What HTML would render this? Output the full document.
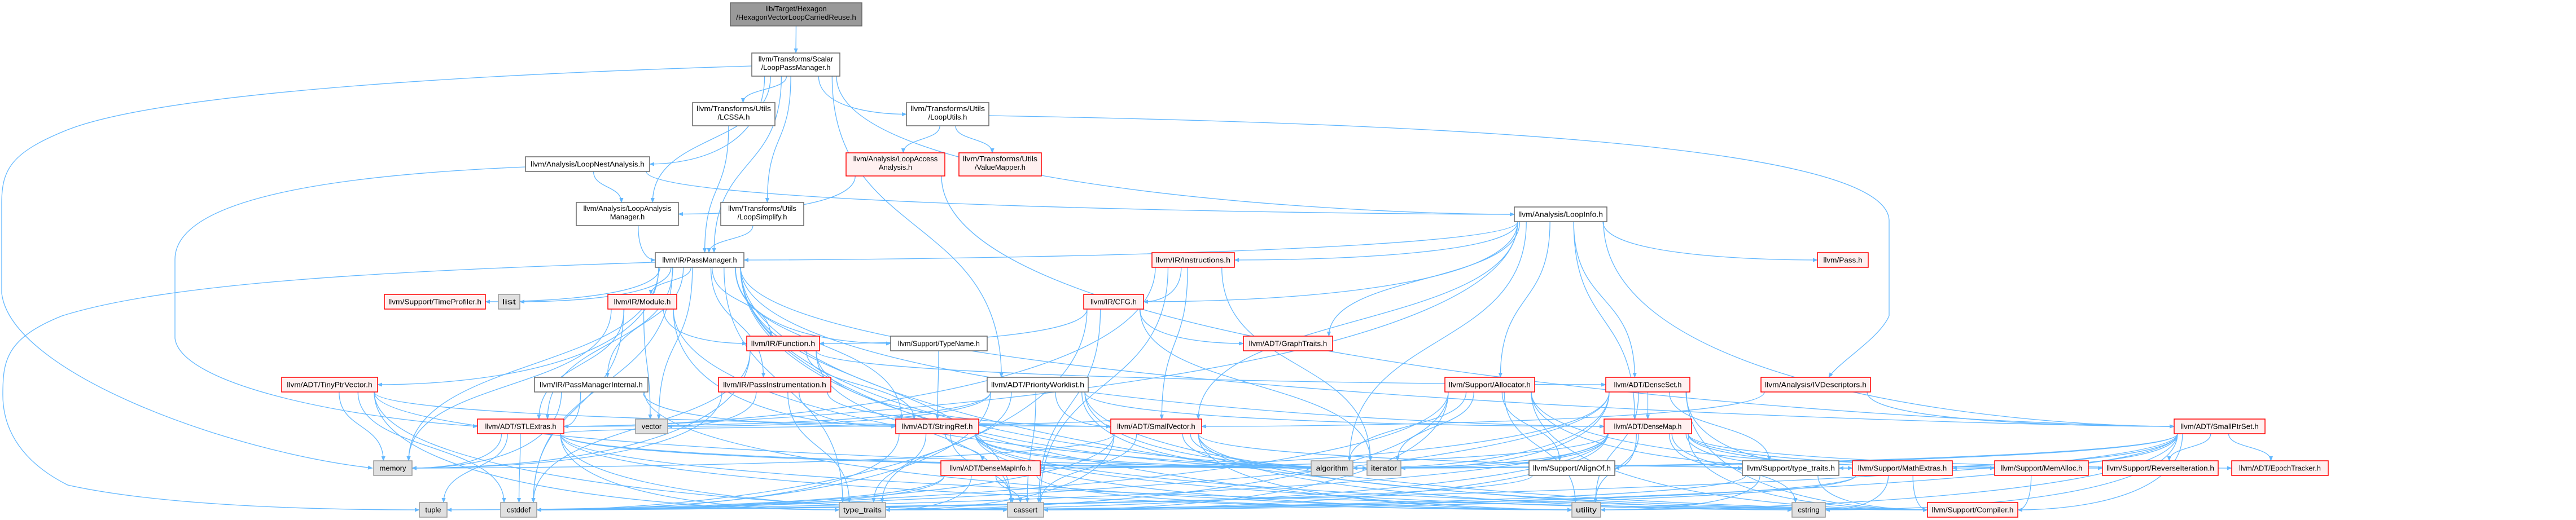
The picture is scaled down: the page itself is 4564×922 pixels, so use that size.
<!DOCTYPE html>
<html><head><meta charset="utf-8"><style>
html,body{margin:0;padding:0;background:#fff;}
svg{display:block;}
text{font-family:"Liberation Sans",sans-serif;font-size:13px;fill:#000;}
</style></head><body>
<svg id="g" width="4564" height="922" viewBox="0 0 4564 922" xmlns="http://www.w3.org/2000/svg">
<defs><marker id="ah" viewBox="0 0 10 10" refX="9" refY="5" markerWidth="9" markerHeight="9" markerUnits="userSpaceOnUse" orient="auto"><path d="M0,1 L10,5 L0,9 z" fill="#63b8ff"/></marker></defs>
<g id="edges"></g>
<g id="nodes"></g>
</svg>
<script>
// node ids, labels, boxes [x1,y1,x2,y2], kinds
const nodeIds = ["hex","lpm","lna","lcssa","lu","laa","vm","lam","ls","pm","instr","li","pass","ivd","tp","list","mod","tpv","pmi","stl","vec","mem","tuple","cstddef","cfg","fn","tn","gt","pi","pw","sr","sv","dmi","tt","cassert","alloc","dset","dmap","algo","iter","align","stt","math","util","cstring","comp","sps","memalloc","rev","epoch"];
const nodeLabels = [
["lib/Target/Hexagon","/HexagonVectorLoopCarriedReuse.h"],["llvm/Transforms/Scalar","/LoopPassManager.h"],["llvm/Analysis/LoopNestAnalysis.h"],
["llvm/Transforms/Utils","/LCSSA.h"],["llvm/Transforms/Utils","/LoopUtils.h"],["llvm/Analysis/LoopAccess","Analysis.h"],["llvm/Transforms/Utils","/ValueMapper.h"],
["llvm/Analysis/LoopAnalysis","Manager.h"],["llvm/Transforms/Utils","/LoopSimplify.h"],["llvm/IR/PassManager.h"],["llvm/IR/Instructions.h"],["llvm/Analysis/LoopInfo.h"],
["llvm/Pass.h"],["llvm/Analysis/IVDescriptors.h"],["llvm/Support/TimeProfiler.h"],["list"],["llvm/IR/Module.h"],["llvm/ADT/TinyPtrVector.h"],
["llvm/IR/PassManagerInternal.h"],["llvm/ADT/STLExtras.h"],["vector"],["memory"],["tuple"],["cstddef"],["llvm/IR/CFG.h"],["llvm/IR/Function.h"],
["llvm/Support/TypeName.h"],["llvm/ADT/GraphTraits.h"],["llvm/IR/PassInstrumentation.h"],["llvm/ADT/PriorityWorklist.h"],["llvm/ADT/StringRef.h"],
["llvm/ADT/SmallVector.h"],["llvm/ADT/DenseMapInfo.h"],["type_traits"],["cassert"],["llvm/Support/Allocator.h"],["llvm/ADT/DenseSet.h"],["llvm/ADT/DenseMap.h"],
["algorithm"],["iterator"],["llvm/Support/AlignOf.h"],["llvm/Support/type_traits.h"],["llvm/Support/MathExtras.h"],["utility"],["cstring"],
["llvm/Support/Compiler.h"],["llvm/ADT/SmallPtrSet.h"],["llvm/Support/MemAlloc.h"],["llvm/Support/ReverseIteration.h"],["llvm/ADT/EpochTracker.h"]];
const nodeBoxes = [
[1294,5,1527,46],[1332,94,1488,135],[931,278,1151,304],[1227,182,1373,223],[1606,182,1752,223],[1499,271,1674,312],[1699,271,1845,312],
[1021,359,1202,400],[1277,359,1424,400],[1161,448,1318,474],[2041,448,2187,474],[2683,367,2847,393],[3220,448,3310,474],[3120,669,3314,695],
[681,522,860,548],[883,522,921,548],[1077,522,1199,548],[499,669,669,695],[947,669,1148,695],[846,743,999,769],[1126,743,1183,769],
[662,817,730,843],[743,891,792,917],[887,891,951,917],[1920,522,2026,548],[1323,596,1452,622],[1578,596,1749,622],[2203,596,2361,622],
[1273,669,1472,695],[1749,669,1928,695],[1587,743,1734,769],[1968,743,2129,769],[1667,817,1843,843],[1487,891,1569,917],[1785,891,1849,917],
[2560,669,2719,695],[2845,669,2994,695],[2842,743,2997,769],[2323,817,2397,843],[2422,817,2482,843],[2709,817,2861,843],[3087,817,3258,843],
[3282,817,3459,843],[2785,891,2836,917],[3175,891,3234,917],[3415,891,3575,917],[3852,743,4013,769],[3534,817,3700,843],[3725,817,3930,843],[3954,817,4125,843]];
const nodeKinds = "HWWWWRRWWWRWRRRGRRWRGGGGRRWRRWRRRGGRRRGGWWRGGRRRRR";
// edges: source -> target
const edgeSources = ["hex","lpm","lpm","lpm","lpm","lpm","lpm","lpm","lpm","lpm","lu","lu","lu","lna","lna","lna","laa","laa","lcssa","ls","lam",
"li","li","li","li","li","li","li","li","li","li","li","li",
"pm","pm","pm","pm","pm","pm","pm","pm","pm","pm","pm","pm","pm","pm","pm","pm","pm","pm","pm","pm","pm","pm",
"mod","mod","mod","mod","mod","mod","mod","instr","instr","instr","instr","instr","cfg","cfg","cfg","cfg","cfg",
"fn","fn","fn","fn","fn","fn","tn","pi","pi","pi","pi","pi","pw","pw","pw","pw","pw","pw","pw","pw","pw","pw",
"pmi","pmi","pmi","pmi","tpv","tpv","tpv","tpv","tpv","tpv",
"stl","stl","stl","stl","stl","stl","stl","stl","stl","stl",
"sr","sr","sr","sr","sr","sr","sr","sr","sr","sv","sv","sv","sv","sv","sv","sv","sv","sv","sv",
"dmi","dmi","dmi","dmi","dmi","alloc","alloc","alloc","alloc","alloc","alloc","alloc","alloc","alloc","alloc",
"dset","dset","dset","dset","dset","dset","dset","dset","dset",
"dmap","dmap","dmap","dmap","dmap","dmap","dmap","dmap","dmap","dmap","dmap","dmap","dmap","dmap","dmap",
"ivd","ivd","sps","sps","sps","sps","sps","sps","sps","sps","sps","sps","sps","align","stt","stt","stt","math","math","math","math","memalloc"];
const edgeTargets = ["lpm","lna","lcssa","lu","lam","ls","pm","li","pw","mem","laa","vm","ivd","lam","li","stl","lam","sps","pm","pm","pm",
"pm","pass","instr","cfg","gt","alloc","dset","dmap","sps","sv","algo","stl",
"tp","list","mod","fn","tn","pmi","pi","tpv","stl","sr","sps","dmap","vec","mem","tuple","cstddef","tt","cassert","iter","algo","util","cstring",
"fn","stl","sr","vec","mem","cstddef","iter","cfg","sv","cassert","iter","stl","fn","gt","iter","cassert","cstddef",
"sr","dset","cassert","cstddef","mem","sv","sr","vec","sv","sr","mem","tt","sv","dmap","stl","algo","iter","cassert","cstddef","vec","tt","comp",
"stl","mem","sr","util","sv","mem","cstddef","cassert","iter","tt",
"mem","tuple","cstddef","tt","cassert","iter","algo","util","comp","sv",
"dmi","tt","cassert","cstddef","comp","algo","iter","cstring","util","tt","cassert","cstddef","comp","algo","iter","util","cstring","mem","math",
"cassert","cstddef","util","tuple","tt","comp","math","memalloc","algo","cassert","cstddef","iter","util","tt","align",
"dmap","dmi","comp","math","stt","iter","algo","util","cstddef",
"dmi","epoch","align","comp","math","memalloc","rev","stt","algo","iter","cassert","cstddef","cstring","util","tt",
"sps","sv","epoch","rev","comp","math","stt","cassert","cstddef","cstring","iter","util","algo","cstddef","comp","tt","util","comp","cstring","tt","cassert","comp"];
// hand-routed long edges (graphviz detours)
const routed = {
  "lpm-mem": "M1332,117 C900,130 300,160 120,230 C20,270 3,300 3,360 L3,520 C20,660 400,800 660,830",
  "lna-stl": "M931,296 C600,310 310,350 310,460 L310,600 C320,680 600,740 846,756",
  "lu-ivd": "M1752,205 C2600,220 3340,260 3347,390 L3347,560 C3330,600 3260,640 3240,669",
  "pm-tuple": "M1161,465 C700,480 300,500 110,560 C10,600 5,640 5,700 C5,780 60,830 120,860 C300,900 600,904 743,904"
};

const eg = document.getElementById('edges');
const ng = document.getElementById('nodes');
const NS = "http://www.w3.org/2000/svg";
function box(id){ return nodeBoxes[nodeIds.indexOf(id)]; }
function clamp(v,a,b){ return Math.max(a,Math.min(b,v)); }

for (let i=0;i<edgeSources.length;i++){
  const key = edgeSources[i]+'-'+edgeTargets[i];
  const s = box(edgeSources[i]), t = box(edgeTargets[i]);
  const scx=(s[0]+s[2])/2, tcx=(t[0]+t[2])/2;
  const sx = clamp(scx+(tcx-scx)*0.15, s[0]+6, s[2]-6), sy = s[3];
  const dy0 = t[1]-sy;
  let d;
  if (routed[key]) {
    d = routed[key];
  } else if (Math.abs(tcx-scx) > 2.5*dy0 && dy0 > 0) {
    const fromLeft = scx < tcx;
    const tx = fromLeft ? t[0] : t[2];
    const ty = (t[1]+t[3])/2;
    const dy = ty-sy;
    const cx2 = tx + (fromLeft ? -1 : 1)*Math.min(300, Math.abs(tx-sx)*0.4);
    d = `M${sx},${sy} C${sx},${sy+dy*0.8} ${cx2},${ty} ${tx},${ty}`;
  } else {
    const tx = clamp(tcx+(scx-tcx)*0.15, t[0]+6, t[2]-6), ty = t[1];
    const dy = ty-sy;
    d = `M${sx},${sy} C${sx},${sy+dy*0.55} ${tx},${ty-dy*0.55} ${tx},${ty}`;
  }
  const p = document.createElementNS(NS,'path');
  p.setAttribute('d',d);
  p.setAttribute('fill','none');
  p.setAttribute('stroke','#63b8ff');
  p.setAttribute('stroke-width','1.3');
  p.setAttribute('marker-end','url(#ah)');
  
  
  eg.appendChild(p);
}

const fills = {H:'#999999',W:'#ffffff',R:'#fff0f0',G:'#e0e0e0'};
const strokes = {H:'#666666',W:'#666666',R:'#ff0000',G:'#999999'};
for (let i=0;i<nodeIds.length;i++){
  const b=nodeBoxes[i], k=nodeKinds[i], lines=nodeLabels[i];
  const g = document.createElementNS(NS,'g');
  
  
  const r = document.createElementNS(NS,'rect');
  r.setAttribute('x',b[0]); r.setAttribute('y',b[1]);
  r.setAttribute('width',b[2]-b[0]); r.setAttribute('height',b[3]-b[1]);
  r.setAttribute('fill',fills[k]); r.setAttribute('stroke',strokes[k]);
  r.setAttribute('stroke-width','1.5');
  g.appendChild(r);
  const w=b[2]-b[0], h=b[3]-b[1], cx=(b[0]+b[2])/2;
  lines.forEach((ln,j)=>{
    const t=document.createElementNS(NS,'text');
    t.setAttribute('x',cx);
    const y = lines.length===1 ? b[1]+h/2+4.5 : b[1]+15+j*15;
    t.setAttribute('y',y);
    t.setAttribute('text-anchor','middle');
    const est = ln.length*6.3;
    const maxw = w-14;
    if (est>maxw || lines.length===1 && ln.length>8){ t.setAttribute('textLength',Math.min(maxw,est)); t.setAttribute('lengthAdjust','spacingAndGlyphs'); }
    t.textContent=ln;
    g.appendChild(t);
  });
  ng.appendChild(g);
}
</script>
</body></html>
